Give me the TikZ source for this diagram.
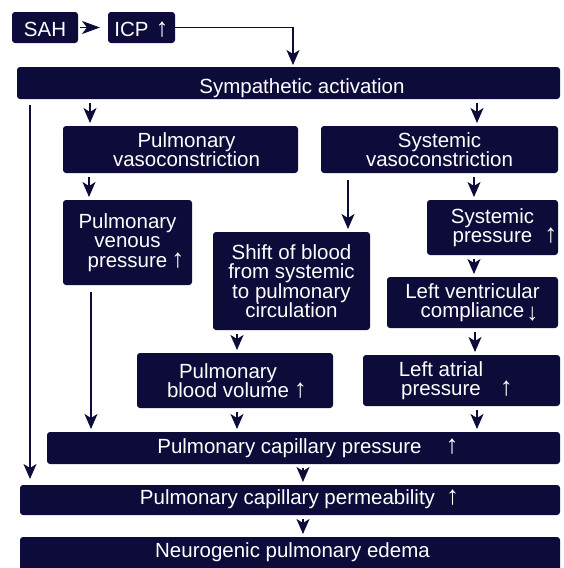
\documentclass[tikz,border=0pt]{standalone}
\usepackage{fontspec}
\setmainfont{Liberation Sans}
\usetikzlibrary{arrows.meta}
\definecolor{navy}{RGB}{12,11,58}
\newcommand\uar{\smash{\fontsize{26}{26}\selectfont ↑}}
\newcommand\dar{\smash{\raisebox{-3pt}{\fontsize{24}{24}\selectfont ↓}}}
\begin{document}
\begin{tikzpicture}[x=1pt,y=-1pt,
  box/.style={fill=navy, rounded corners=3pt, text=white, align=center,
    inner sep=0pt, outer sep=0pt, font=\fontsize{20.5}{19.5}\selectfont},
  oneline/.style={text height=#1, text depth=0pt},
  onelineup/.style={text height=14.7pt, text depth=#1},
  arr/.style={draw=navy, line width=1.6pt,
    -{Stealth[length=15pt,width=13pt,inset=4pt]},
    shorten <=4pt, shorten >=3pt}]
\path[use as bounding box, fill=white] (0,0) rectangle (563,568);

\node[box, oneline=17.7pt, minimum width=66, minimum height=31] (sah) at (45,27.5) {SAH};
\node[box, oneline=17.7pt, minimum width=67, minimum height=31] (icp) at (141.5,27.5) {ICP\hspace{7pt}\uar};
\node[box, oneline=20pt, minimum width=543, minimum height=32] (symp) at (288.5,83) {\hspace*{27pt}Sympathetic activation};
\node[box, minimum width=235, minimum height=47] (pvaso) at (180.5,149.5) {\hspace*{12pt}Pulmonary\\\hspace*{12pt}vasoconstriction};
\node[box, minimum width=237, minimum height=47] (svaso) at (439.5,149.5) {Systemic\\vasoconstriction};
\node[box, minimum width=129, minimum height=85] (pven) at (127.5,242.5) {Pulmonary\\venous\\pressure\rlap{\hspace{4pt}\uar}};
\node[box, minimum width=157, minimum height=98] (shift) at (291.5,281) {Shift of blood\\from systemic\\to pulmonary\\circulation};
\node[box, minimum width=131, minimum height=55] (spress) at (492.5,227.5) {Systemic\\pressure\rlap{\hspace{12pt}\uar}};
\node[box, minimum width=171, minimum height=51] (lvc) at (472.5,302.5) {Left ventricular\\compliance\rlap{\hspace{2pt}\dar}};
\node[box, minimum width=196, minimum height=55] (pbv) at (235,380.5) {Pulmonary\hspace*{14pt}\mbox{}\\blood volume\rlap{\hspace{5pt}\uar}\hspace*{14pt}\mbox{}};
\node[box, minimum width=197, minimum height=51] (lap) at (461.5,380.5) {Left atrial\hspace*{41pt}\mbox{}\\pressure\rlap{\hspace{19pt}\uar}\hspace*{41pt}\mbox{}};
\node[box, onelineup=4pt, minimum width=513, minimum height=32] (pcp) at (303.5,448) {\hspace*{9pt}Pulmonary capillary pressure\hspace{24pt}\uar};
\node[box, onelineup=5pt, minimum width=540, minimum height=30] (perm) at (290,500) {\hspace*{19pt}Pulmonary capillary permeability\hspace{11pt}\uar};
\node[box, onelineup=9pt, minimum width=540, minimum height=35] (edema) at (290,554.5) {\hspace*{5pt}Neurogenic pulmonary edema};

\draw[arr, -{Stealth[length=18pt,width=13pt,inset=5pt]}, shorten <=2pt, shorten >=8pt] (sah) -- (icp);
\draw[arr, shorten <=0pt, shorten >=2pt] (icp.east) -| (symp.north -| 293,0);
\draw[arr] (symp.south -| 90,0) -- (pvaso.north -| 90,0);
\draw[arr] (symp.south -| 477,0) -- (svaso.north -| 477,0);
\draw[arr] (pvaso.south -| 89,0) -- (pven.north -| 89,0);
\draw[arr, shorten <=7pt] (svaso.south -| 348,0) -- (shift.north -| 348,0);
\draw[arr] (svaso.south -| 474,0) -- (spress.north -| 474,0);
\draw[arr] (spress.south -| 474,0) -- (lvc.north -| 474,0);
\draw[arr] (lvc.south -| 475,0) -- (lap.north -| 475,0);
\draw[arr, shorten <=7pt] (pven.south -| 91,0) -- (pcp.north -| 91,0);
\draw[arr] (shift.south -| 237,0) -- (pbv.north -| 237,0);
\draw[arr] (pbv.south -| 237,0) -- (pcp.north -| 237,0);
\draw[arr] (lap.south -| 477,0) -- (pcp.north -| 477,0);
\draw[arr, shorten <=6pt, shorten >=6pt] (symp.south -| 30,0) -- (perm.north -| 30,0);
\draw[arr] (pcp.south -| 303,0) -- (perm.north -| 303,0);
\draw[arr] (perm.south -| 303,0) -- (edema.north -| 303,0);
\end{tikzpicture}
\end{document}
